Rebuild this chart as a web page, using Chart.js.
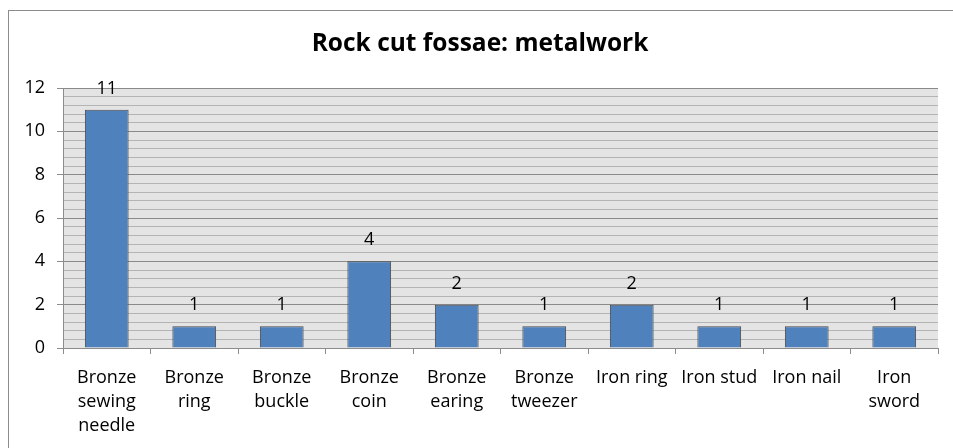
<!DOCTYPE html>
<html>
<head>
<meta charset="utf-8">
<script src="https://cdn.jsdelivr.net/npm/chart.js@4"></script>
<style>
  html, body { margin: 0; padding: 0; background: #fff; }
  #wrap { width: 953px; height: 448px; }
</style>
</head>
<body>
<div id="wrap"><canvas id="c" width="953" height="448"></canvas></div>
<script>
const chartTitle = 'Rock cut fossae: metalwork';
const categories = [
  ['Bronze', 'sewing', 'needle'],
  ['Bronze', 'ring'],
  ['Bronze', 'buckle'],
  ['Bronze', 'coin'],
  ['Bronze', 'earing'],
  ['Bronze', 'tweezer'],
  ['Iron ring'],
  ['Iron stud'],
  ['Iron nail'],
  ['Iron', 'sword']
];
const counts = [11, 1, 1, 4, 2, 1, 2, 1, 1, 1];
const yMax = 12;
const yMinorStep = 0.4;

const FONT = '"Open Sans", Lato, "Liberation Sans", sans-serif';

function isMajor(v) {
  return Math.abs(v / 2 - Math.round(v / 2)) < 1e-6;
}

// frame, plot background, title and value labels
const decor = {
  id: 'decor',
  beforeDraw(chart) {
    const { ctx, chartArea: a } = chart;
    ctx.save();
    ctx.fillStyle = '#fff';
    ctx.fillRect(0, 0, chart.width, chart.height);
    ctx.fillStyle = '#e4e4e4';
    ctx.fillRect(a.left, a.top, a.right - a.left, a.bottom - a.top);
    ctx.strokeStyle = '#8c8c8c';
    ctx.lineWidth = 1;
    ctx.strokeRect(8.5, 10.5, 1000, 500);
    ctx.fillStyle = '#000';
    ctx.font = 'bold 24.5px ' + FONT;
    ctx.textAlign = 'center';
    ctx.textBaseline = 'middle';
    ctx.fillText(chartTitle, 480, 44);
    ctx.restore();
  },
  afterDatasetsDraw(chart) {
    const { ctx } = chart;
    const meta = chart.getDatasetMeta(0);
    ctx.save();
    ctx.fillStyle = '#000';
    ctx.font = '18px ' + FONT;
    ctx.textAlign = 'center';
    ctx.textBaseline = 'middle';
    meta.data.forEach((bar, i) => {
      ctx.fillText(String(counts[i]), bar.x, bar.y - 21);
    });
    ctx.restore();
  }
};

new Chart(document.getElementById('c'), {
  type: 'bar',
  data: {
    labels: categories,
    datasets: [{
      data: counts,
      backgroundColor: '#4f81bd',
      borderColor: '#4a4a4a',
      borderWidth: 1,
      categoryPercentage: 1,
      barPercentage: 0.5
    }]
  },
  options: {
    responsive: false,
    animation: false,
    layout: { padding: { left: 0, right: 15, top: 88, bottom: 0 } },
    plugins: {
      legend: { display: false },
      title: { display: false },
      tooltip: { enabled: false }
    },
    scales: {
      x: {
        afterFit(s) { s.height = 100; },
        grid: {
          display: true,
          offset: true,
          drawOnChartArea: false,
          drawTicks: true,
          tickLength: 6,
          tickColor: '#8c8c8c'
        },
        border: { display: true, color: '#8c8c8c', width: 1 },
        ticks: {
          color: '#000',
          font: { family: FONT, size: 18, lineHeight: 1.33 },
          padding: 12,
          maxRotation: 0,
          autoSkip: false
        }
      },
      y: {
        min: 0,
        max: yMax,
        afterFit(s) { s.width = 63; },
        afterBuildTicks(s) {
          const t = [];
          for (let i = 0; i <= Math.round(yMax / yMinorStep); i++) {
            t.push({ value: Math.round(i * yMinorStep * 10) / 10 });
          }
          s.ticks = t;
        },
        grid: {
          color: c => isMajor(c.tick.value) ? '#8a8a8a' : '#b4b4b4',
          tickColor: c => isMajor(c.tick.value) ? '#8c8c8c' : 'rgba(0,0,0,0)',
          tickLength: 6,
          lineWidth: 1
        },
        border: { display: true, color: '#8c8c8c', width: 1 },
        ticks: {
          color: '#000',
          font: { family: FONT, size: 18 },
          padding: 12,
          autoSkip: false,
          callback: v => isMajor(v) ? String(Math.round(v)) : ''
        }
      }
    }
  },
  plugins: [decor]
});
</script>
</body>
</html>
